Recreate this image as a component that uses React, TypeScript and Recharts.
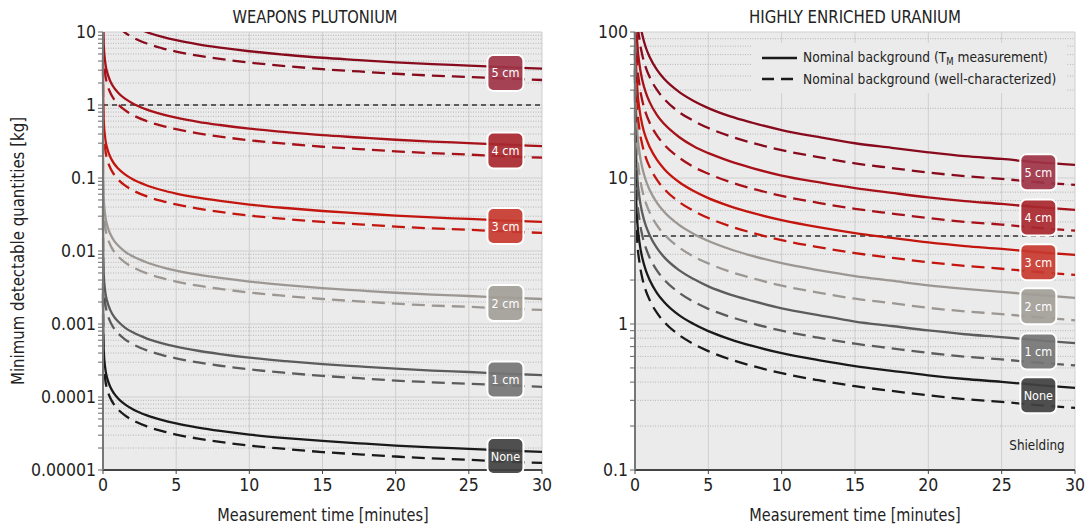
import React from "react";
import {
  LineChart,
  Line,
  XAxis,
  YAxis,
  CartesianGrid,
  ReferenceLine,
  ReferenceDot,
} from "recharts";

const FONT = "'Liberation Sans Narrow', 'DejaVu Sans Condensed', 'Arial Narrow', sans-serif";

// ---------- data ----------
const TIMES = [0.0007, 0.01, 0.05, 0.15, 0.3, 0.5, 0.75, 1, 1.5, 2, 3, 4, 5, 6.5, 8, 10, 12.5, 15, 17.5, 20, 22.5, 25, 27.5, 30];

const SHIELDING = ["5 cm", "4 cm", "3 cm", "2 cm", "1 cm", "None"];
const LINE_COLORS = ["#870b1d", "#a71119", "#c3160e", "#9c9792", "#5c5c5c", "#1a1a1a"];
const BOX_COLORS = ["#9e3446", "#a8282f", "#c7392f", "#a39e98", "#757575", "#414141"];

// Weapons plutonium [kg]
const PU_5CM_SOLID = [652, 173, 77.2, 44.4, 31.5, 24.4, 19.9, 17.3, 14.1, 12.2, 9.95, 8.63, 7.72, 6.77, 6.11, 5.45, 4.88, 4.44, 4.13, 3.84, 3.62, 3.47, 3.29, 3.15];
const PU_5CM_DASHED = [455, 121, 53.9, 31.0, 22.0, 17.1, 13.9, 12.1, 9.83, 8.51, 6.95, 6.03, 5.39, 4.73, 4.27, 3.81, 3.41, 3.1, 2.88, 2.68, 2.53, 2.42, 2.3, 2.2];
const PU_4CM_SOLID = [56.7, 15.0, 6.71, 3.86, 2.74, 2.12, 1.73, 1.5, 1.22, 1.06, 0.866, 0.751, 0.671, 0.589, 0.532, 0.474, 0.425, 0.386, 0.359, 0.334, 0.315, 0.301, 0.286, 0.274];
const PU_4CM_DASHED = [39.3, 10.4, 4.66, 2.68, 1.9, 1.47, 1.2, 1.04, 0.849, 0.735, 0.6, 0.521, 0.466, 0.409, 0.369, 0.329, 0.295, 0.268, 0.249, 0.232, 0.219, 0.209, 0.198, 0.19];
const PU_3CM_SOLID = [5.18, 1.37, 0.613, 0.353, 0.25, 0.194, 0.158, 0.137, 0.112, 0.0968, 0.079, 0.0685, 0.0613, 0.0538, 0.0485, 0.0433, 0.0388, 0.0353, 0.0328, 0.0305, 0.0288, 0.0275, 0.0261, 0.025];
const PU_3CM_DASHED = [3.66, 0.97, 0.434, 0.25, 0.177, 0.137, 0.112, 0.097, 0.0791, 0.0685, 0.0559, 0.0485, 0.0434, 0.0381, 0.0343, 0.0306, 0.0274, 0.025, 0.0232, 0.0216, 0.0204, 0.0195, 0.0185, 0.0177];
const PU_2CM_SOLID = [0.455, 0.121, 0.0539, 0.031, 0.022, 0.0171, 0.0139, 0.0121, 0.00983, 0.00851, 0.00695, 0.00603, 0.00539, 0.00473, 0.00427, 0.00381, 0.00341, 0.0031, 0.00288, 0.00268, 0.00253, 0.00242, 0.0023, 0.0022];
const PU_2CM_DASHED = [0.323, 0.0855, 0.0382, 0.022, 0.0156, 0.0121, 0.00986, 0.00855, 0.00697, 0.00604, 0.00493, 0.00427, 0.00382, 0.00335, 0.00303, 0.0027, 0.00242, 0.0022, 0.00204, 0.0019, 0.00179, 0.00172, 0.00163, 0.00156];
const PU_1CM_SOLID = [0.0414, 0.011, 0.0049, 0.00282, 0.002, 0.00155, 0.00126, 0.0011, 0.000894, 0.000774, 0.000632, 0.000548, 0.00049, 0.00043, 0.000388, 0.000346, 0.00031, 0.000282, 0.000262, 0.000244, 0.00023, 0.00022, 0.000209, 0.0002];
const PU_1CM_DASHED = [0.0286, 0.00756, 0.00338, 0.00195, 0.00138, 0.00107, 0.000872, 0.000756, 0.000617, 0.000534, 0.000436, 0.000378, 0.000338, 0.000297, 0.000268, 0.000239, 0.000214, 0.000195, 0.000181, 0.000168, 0.000159, 0.000152, 0.000144, 0.000138];
const PU_NONE_SOLID = [3.66e-3, 9.7e-4, 4.34e-4, 2.5e-4, 1.77e-4, 1.37e-4, 1.12e-4, 9.7e-5, 7.91e-5, 6.85e-5, 5.59e-5, 4.85e-5, 4.34e-5, 3.81e-5, 3.43e-5, 3.06e-5, 2.74e-5, 2.5e-5, 2.32e-5, 2.16e-5, 2.04e-5, 1.95e-5, 1.85e-5, 1.77e-5];
const PU_NONE_DASHED = [2.59e-3, 6.85e-4, 3.06e-4, 1.76e-4, 1.25e-4, 9.69e-5, 7.9e-5, 6.85e-5, 5.59e-5, 4.84e-5, 3.95e-5, 3.43e-5, 3.06e-5, 2.69e-5, 2.43e-5, 2.16e-5, 1.94e-5, 1.76e-5, 1.64e-5, 1.53e-5, 1.44e-5, 1.38e-5, 1.3e-5, 1.25e-5];

// Highly enriched uranium [kg]
const HEU_5CM_SOLID = [2546, 674, 301, 173, 123, 95.3, 77.7, 67.4, 55.0, 47.6, 38.9, 33.7, 30.1, 26.4, 23.9, 21.3, 19.1, 17.3, 16.1, 15.0, 14.1, 13.5, 12.8, 12.3];
const HEU_5CM_DASHED = [1855, 491, 220, 126, 89.6, 69.4, 56.6, 49.1, 40.1, 34.7, 28.3, 24.6, 22.0, 19.3, 17.4, 15.5, 13.9, 12.6, 11.7, 10.9, 10.3, 9.86, 9.35, 8.96];
const HEU_4CM_SOLID = [1250, 331, 148, 85.2, 60.4, 46.8, 38.2, 33.1, 27.0, 23.4, 19.1, 16.5, 14.8, 13.0, 11.7, 10.4, 9.36, 8.52, 7.91, 7.37, 6.95, 6.64, 6.31, 6.04];
const HEU_4CM_DASHED = [903, 239, 107, 61.5, 43.6, 33.8, 27.6, 23.9, 19.5, 16.9, 13.8, 11.9, 10.7, 9.37, 8.46, 7.54, 6.76, 6.15, 5.71, 5.32, 5.01, 4.8, 4.55, 4.36];
const HEU_3CM_SOLID = [615, 163, 72.8, 41.9, 29.7, 23.0, 18.8, 16.3, 13.3, 11.5, 9.39, 8.14, 7.28, 6.39, 5.76, 5.14, 4.6, 4.19, 3.89, 3.62, 3.42, 3.27, 3.1, 2.97];
const HEU_3CM_DASHED = [449, 119, 53.2, 30.6, 21.7, 16.8, 13.7, 11.9, 9.7, 8.4, 6.86, 5.95, 5.32, 4.67, 4.21, 3.75, 3.36, 3.06, 2.84, 2.65, 2.5, 2.39, 2.27, 2.17];
const HEU_2CM_SOLID = [313, 82.7, 37.0, 21.3, 15.1, 11.7, 9.54, 8.27, 6.75, 5.84, 4.77, 4.14, 3.7, 3.25, 2.93, 2.61, 2.34, 2.13, 1.98, 1.84, 1.74, 1.66, 1.58, 1.51];
const HEU_2CM_DASHED = [219, 58.1, 26.0, 14.9, 10.6, 8.22, 6.7, 5.81, 4.74, 4.1, 3.35, 2.9, 2.6, 2.28, 2.06, 1.83, 1.64, 1.49, 1.39, 1.29, 1.22, 1.17, 1.11, 1.06];
const HEU_1CM_SOLID = [153, 40.6, 18.1, 10.4, 7.4, 5.74, 4.68, 4.06, 3.31, 2.86, 2.34, 2.03, 1.81, 1.59, 1.44, 1.28, 1.15, 1.04, 0.969, 0.903, 0.851, 0.814, 0.773, 0.74];
const HEU_1CM_DASHED = [108, 28.5, 12.7, 7.33, 5.2, 4.03, 3.29, 2.85, 2.32, 2.01, 1.64, 1.42, 1.27, 1.12, 1.01, 0.9, 0.806, 0.733, 0.681, 0.634, 0.598, 0.572, 0.543, 0.52];
const HEU_NONE_SOLID = [75.6, 20.0, 8.94, 5.15, 3.65, 2.83, 2.31, 2.0, 1.63, 1.41, 1.15, 1.0, 0.894, 0.785, 0.708, 0.631, 0.566, 0.515, 0.478, 0.445, 0.42, 0.402, 0.381, 0.365];
const HEU_NONE_DASHED = [55.1, 14.6, 6.52, 3.75, 2.66, 2.06, 1.68, 1.46, 1.19, 1.03, 0.841, 0.729, 0.652, 0.572, 0.516, 0.46, 0.412, 0.375, 0.348, 0.325, 0.306, 0.293, 0.278, 0.266];

// axes
const X_TICKS = [0, 5, 10, 15, 20, 25, 30];
const PU_MAJOR_TICKS = [1e-5, 1e-4, 1e-3, 1e-2, 0.1, 1, 10];
const PU_TICK_LABELS = ["0.00001", "0.0001", "0.001", "0.01", "0.1", "1", "10"];
const HEU_MAJOR_TICKS = [0.1, 1, 10, 100];
const HEU_TICK_LABELS = ["0.1", "1", "10", "100"];
const MINOR_MULTIPLIERS = [2, 3, 4, 5, 6, 7, 8, 9];
const PU_THRESHOLD = 1;
const HEU_THRESHOLD = 4;
const LABEL_TIME = 27.5;

const PU_SOLID = [PU_5CM_SOLID, PU_4CM_SOLID, PU_3CM_SOLID, PU_2CM_SOLID, PU_1CM_SOLID, PU_NONE_SOLID];
const PU_DASHED = [PU_5CM_DASHED, PU_4CM_DASHED, PU_3CM_DASHED, PU_2CM_DASHED, PU_1CM_DASHED, PU_NONE_DASHED];
const HEU_SOLID = [HEU_5CM_SOLID, HEU_4CM_SOLID, HEU_3CM_SOLID, HEU_2CM_SOLID, HEU_1CM_SOLID, HEU_NONE_SOLID];
const HEU_DASHED = [HEU_5CM_DASHED, HEU_4CM_DASHED, HEU_3CM_DASHED, HEU_2CM_DASHED, HEU_1CM_DASHED, HEU_NONE_DASHED];

function buildRows(solid: number[][], dashed: number[][]) {
  return TIMES.map((t, i) => {
    const row: Record<string, number> = { t };
    solid.forEach((arr, k) => (row["s" + k] = arr[i]));
    dashed.forEach((arr, k) => (row["d" + k] = arr[i]));
    return row;
  });
}

function minorTicks(majors: number[]) {
  const out: number[] = [];
  majors.slice(0, -1).forEach((m) => MINOR_MULTIPLIERS.forEach((k) => out.push(m * k)));
  return out;
}

const makeBox = (label: string, fill: string) => (props: any) => {
  const { cx, cy } = props;
  if (cx == null || cy == null) return <g />;
  return (
    <g>
      <rect x={cx - 18} y={cy - 18} width={36} height={36} rx={6} ry={6} fill={fill} fillOpacity={0.92} stroke="#ffffff" strokeWidth={2} />
      <text x={cx} y={cy + 4.5} textAnchor="middle" fill="#ffffff" fontSize={12.5} fontFamily={FONT}>
        {label}
      </text>
    </g>
  );
};

type PanelProps = {
  left: number;
  width: number;
  yAxisWidth: number;
  marginRight: number;
  solid: number[][];
  dashed: number[][];
  majors: number[];
  labels: string[];
  threshold: number;
};

function Panel(p: PanelProps) {
  const rows = buildRows(p.solid, p.dashed);
  const minors = minorTicks(p.majors);
  const allTicks = [...p.majors, ...minors].sort((a, b) => a - b);
  const fmt = (v: number) => {
    const i = p.majors.findIndex((m) => Math.abs(m - v) / m < 1e-6);
    return i >= 0 ? p.labels[i] : "";
  };
  const li = TIMES.indexOf(LABEL_TIME);
  const tickStyle = { fontSize: 17.5, fill: "#222", fontFamily: FONT };
  return (
    <div style={{ position: "absolute", left: p.left, top: 0 }}>
      <LineChart
        width={p.width}
        height={529}
        data={rows}
        margin={{ top: 32, right: p.marginRight, bottom: 29, left: 0 }}
      >
        <CartesianGrid horizontal={false} vertical={true} stroke="#cfcfcf" fill="#ebebeb" strokeWidth={1} />
        {minors.map((v) => (
          <ReferenceLine key={"mi" + v} y={v} stroke="#b5b5b5" strokeDasharray="1 1.5" strokeWidth={1} />
        ))}
        {p.majors.map((v) => (
          <ReferenceLine key={"ma" + v} y={v} stroke="#cfcfcf" strokeWidth={1} />
        ))}
        <XAxis
          dataKey="t"
          type="number"
          domain={[0, 30]}
          ticks={X_TICKS}
          interval={0}
          height={30}
          tickSize={4}
          tickMargin={5}
          stroke="#444"
          strokeWidth={2}
          tick={tickStyle}
          tickLine={{ stroke: "#444", strokeWidth: 1 }}
        />
        <YAxis
          type="number"
          scale="log"
          domain={[p.majors[0], p.majors[p.majors.length - 1]]}
          allowDataOverflow
          ticks={allTicks}
          interval={0}
          tickFormatter={fmt}
          width={p.yAxisWidth}
          tickSize={5}
          tickMargin={2}
          stroke="#777"
          strokeWidth={2}
          tick={tickStyle}
          tickLine={{ stroke: "#666", strokeWidth: 1 }}
        />
        <ReferenceLine y={p.threshold} stroke="#333" strokeDasharray="5 4" strokeWidth={1.5} />
        {p.solid.map((_, k) => (
          <Line
            key={"s" + k}
            dataKey={"s" + k}
            type="monotone"
            stroke={LINE_COLORS[k]}
            strokeWidth={2.3}
            dot={false}
            isAnimationActive={false}
          />
        ))}
        {p.dashed.map((_, k) => (
          <Line
            key={"d" + k}
            dataKey={"d" + k}
            type="monotone"
            stroke={LINE_COLORS[k]}
            strokeWidth={2.3}
            strokeDasharray="13 7"
            dot={false}
            isAnimationActive={false}
          />
        ))}
        {SHIELDING.map((lab, k) => (
          <ReferenceDot
            key={"b" + k}
            x={LABEL_TIME}
            y={Math.sqrt(p.solid[k][li] * p.dashed[k][li])}
            shape={makeBox(lab, BOX_COLORS[k])}
          />
        ))}
      </LineChart>
    </div>
  );
}

const textBase: React.CSSProperties = {
  position: "absolute",
  fontFamily: FONT,
  color: "#222",
  whiteSpace: "nowrap",
};

const centered = (sx: number, rot = 0) => `translate(-50%, -50%) rotate(${rot}deg) scaleX(${sx})`;

export default function App() {
  return (
    <div style={{ position: "absolute", left: 0, top: 0, width: 1085, height: 529, background: "#fff", overflow: "hidden" }}>
      <Panel left={0} width={560} yAxisWidth={103} marginRight={18} solid={PU_SOLID} dashed={PU_DASHED} majors={PU_MAJOR_TICKS} labels={PU_TICK_LABELS} threshold={PU_THRESHOLD} />
      <Panel left={545} width={540} yAxisWidth={90} marginRight={10} solid={HEU_SOLID} dashed={HEU_DASHED} majors={HEU_MAJOR_TICKS} labels={HEU_TICK_LABELS} threshold={HEU_THRESHOLD} />

      <div style={{ ...textBase, left: 315, top: 16, fontSize: 18.5, transform: centered(0.88) }}>WEAPONS PLUTONIUM</div>
      <div style={{ ...textBase, left: 855, top: 16, fontSize: 18.5, transform: centered(0.9) }}>HIGHLY ENRICHED URANIUM</div>
      <div style={{ ...textBase, left: 323, top: 515, fontSize: 17.5, transform: centered(0.92) }}>Measurement time [minutes]</div>
      <div style={{ ...textBase, left: 855, top: 515, fontSize: 17.5, transform: centered(0.92) }}>Measurement time [minutes]</div>
      <div style={{ ...textBase, left: 18, top: 251, fontSize: 17.5, transform: centered(0.95, -90) }}>
        Minimum detectable quantities [kg]
      </div>
      <div style={{ ...textBase, left: 1037, top: 445, fontSize: 14.5, transform: centered(0.92) }}>Shielding</div>

      {/* legend */}
      <div style={{ position: "absolute", left: 752, top: 43, width: 315, height: 50, background: "#ebebeb" }}>
        <svg style={{ position: "absolute", left: 10, top: 13 }} width={36} height={4}>
          <line x1={0} y1={2} x2={35} y2={2} stroke="#1a1a1a" strokeWidth={2.4} />
        </svg>
        <svg style={{ position: "absolute", left: 10, top: 34 }} width={36} height={4}>
          <line x1={0} y1={2} x2={35} y2={2} stroke="#1a1a1a" strokeWidth={2.4} strokeDasharray="12 7" />
        </svg>
        <div style={{ position: "absolute", left: 51, top: 4, fontFamily: FONT, fontSize: 14.5, color: "#222", whiteSpace: "nowrap", lineHeight: "20px", transform: "scaleX(0.94)", transformOrigin: "left center" }}>
          Nominal background (T<sub style={{ fontSize: 10, verticalAlign: "-3px" }}>M</sub> measurement)
        </div>
        <div style={{ position: "absolute", left: 51, top: 26, fontFamily: FONT, fontSize: 14.5, color: "#222", whiteSpace: "nowrap", lineHeight: "20px", transform: "scaleX(0.94)", transformOrigin: "left center" }}>
          Nominal background (well-characterized)
        </div>
      </div>
    </div>
  );
}
